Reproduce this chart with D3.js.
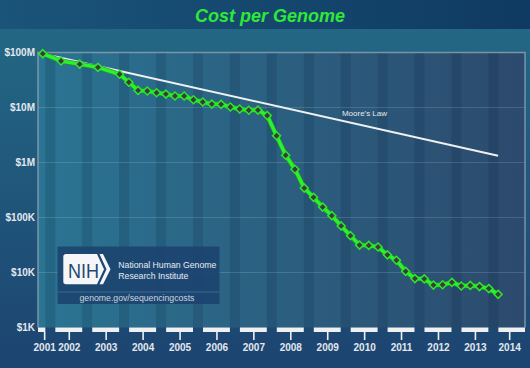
<!DOCTYPE html>
<html>
<head>
<meta charset="utf-8">
<script src="https://cdn.jsdelivr.net/npm/d3@7"></script>
<style>
  body { margin: 0; background: #1d4670; }
  svg { display: block; font-family: "Liberation Sans", Arial, sans-serif; }
</style>
</head>
<body>
<div id="chart"></div>
<script>
// Messpunkte: Datum (Jahr-Monat) und Kosten pro Genom in USD
const dates = [
  "2001-09", "2002-03", "2002-09", "2003-03", "2003-10",
  "2004-01", "2004-04", "2004-07", "2004-10",
  "2005-01", "2005-04", "2005-07", "2005-10",
  "2006-01", "2006-04", "2006-07", "2006-10",
  "2007-01", "2007-04", "2007-07", "2007-10",
  "2008-01", "2008-04", "2008-07", "2008-10",
  "2009-01", "2009-04", "2009-07", "2009-10",
  "2010-01", "2010-04", "2010-07", "2010-10",
  "2011-01", "2011-04", "2011-07", "2011-10",
  "2012-01", "2012-04", "2012-07", "2012-10",
  "2013-01", "2013-04", "2013-07", "2013-10",
  "2014-01"
];
const costs = [
  95263072, 70175437, 61448422, 53751684, 40153696,
  28780376, 20442576, 19934346, 18519312,
  17534970, 16159699, 16180224, 13801124,
  12585659, 11524373, 11425124, 10200806,
  9406689, 8925764, 8973446, 7147571,
  3063820, 1352982, 752080, 342502,
  232735, 154714, 108065, 70333,
  46774, 31512, 31125, 29092,
  20963, 16712, 10497, 7743,
  7666, 5901, 5985, 6618,
  5671, 5826, 5550, 5096,
  4008
];
// Moore's Law: Anfangs- und Endpunkt (Gerade im Log-Maßstab)
const mooreDates = ["2001-09", "2014-01"];
const mooreCosts = [95263072, 1330000];

const years = d3.range(2001, 2015);
const yTicks = [1e3, 1e4, 1e5, 1e6, 1e7, 1e8];
const yTickLabels = ["$1K", "$10K", "$100K", "$1M", "$10M", "$100M"];

const width = 530, height = 368;
const plot = { left: 38, right: 525, top: 52.5, bottom: 327.5 };

const parse = d3.timeParse("%Y-%m");
const data = dates.map((d, i) => ({ date: parse(d), cost: costs[i] }));
const moore = mooreDates.map((d, i) => ({ date: parse(d), cost: mooreCosts[i] }));

const svg = d3.select("#chart").append("svg")
  .attr("width", width)
  .attr("height", height);

const defs = svg.append("defs");
function gradient(id, x2, y2, stops) {
  const g = defs.append("linearGradient").attr("id", id)
    .attr("x1", 0).attr("y1", 0).attr("x2", x2).attr("y2", y2);
  stops.forEach(([o, c]) => g.append("stop").attr("offset", o).attr("stop-color", c));
}
gradient("bgPanel", 0, 1, [[0, "#246a86"], [1, "#1c4470"]]);
gradient("bgHead", 1, 0, [[0, "#1b5479"], [1, "#0f3a62"]]);
gradient("bgPlot", 1, 0, [[0, "#2b7493"], [0.5, "#2b5f80"], [1, "#2c4a6d"]]);

// Hintergrund
svg.append("rect").attr("width", width).attr("height", height).attr("fill", "url(#bgPanel)");
svg.append("rect").attr("width", width).attr("height", 29).attr("fill", "url(#bgHead)");

// Skalen
const x = d3.scaleTime()
  .domain([new Date(2001, 6, 16), new Date(2014, 8, 24)])
  .range([plot.left, plot.right]);
const y = d3.scaleLog()
  .domain([1e3, 1e8])
  .range([plot.bottom, plot.top]);

// Jahresbänder (Mitte Nov. bis Mitte Nov.), auf den Achsenbereich beschnitten
const [d0, d1] = x.domain();
const bands = years.map(yr => {
  const a = new Date(Math.max(new Date(yr - 1, 10, 15), d0));
  const b = new Date(Math.min(new Date(yr, 10, 15), d1));
  return { year: yr, x0: x(a), x1: x(b) };
});

svg.append("rect")
  .attr("x", plot.left).attr("y", plot.top)
  .attr("width", plot.right - plot.left).attr("height", plot.bottom - plot.top)
  .attr("fill", "url(#bgPlot)");

// dunkle Streifen an den Jahresgrenzen
svg.append("g").selectAll("rect")
  .data(bands.slice(0, -1))
  .join("rect")
    .attr("x", d => d.x1 - 5)
    .attr("y", plot.top)
    .attr("width", 10)
    .attr("height", plot.bottom - plot.top)
    .attr("fill", "#05203f")
    .attr("opacity", 0.16);

// Gitterlinien
svg.append("g").selectAll("line")
  .data(yTicks.slice(1, -1))
  .join("line")
    .attr("x1", plot.left).attr("x2", plot.right)
    .attr("y1", d => y(d)).attr("y2", d => y(d))
    .attr("stroke", "#ffffff").attr("stroke-opacity", 0.14);

// Rahmen oben, links, rechts
svg.append("path")
  .attr("d", `M${plot.left},${plot.bottom}V${plot.top}H${plot.right}V${plot.bottom}`)
  .attr("fill", "none")
  .attr("stroke", "#8ea3b3")
  .attr("stroke-opacity", 0.8)
  .attr("stroke-width", 1.5);

// Y-Achse
const yAxis = d3.axisLeft(y)
  .tickValues(yTicks)
  .tickFormat((d, i) => yTickLabels[i])
  .tickSize(0)
  .tickPadding(3);
svg.append("g")
  .attr("transform", `translate(${plot.left},0)`)
  .call(yAxis)
  .call(g => g.select(".domain").remove())
  .call(g => g.selectAll("text")
    .attr("fill", "#e2e8ee")
    .attr("font-size", 10)
    .attr("font-weight", "bold")
    .attr("font-family", "Liberation Sans, Arial, sans-serif"));

// X-Achse: weiße Balken je Jahr, Ticks in der Bandmitte
svg.append("g").selectAll("rect")
  .data(bands)
  .join("rect")
    .attr("x", (d, i) => i === 0 ? d.x0 : d.x0 + 5)
    .attr("y", plot.bottom)
    .attr("width", (d, i) => (d.x1 - (i === bands.length - 1 ? 0 : 5)) - (i === 0 ? d.x0 : d.x0 + 5))
    .attr("height", 4.5)
    .attr("fill", "#eef0f2");

const xAxis = d3.axisBottom(x)
  .tickValues(bands.map(d => x.invert((d.x0 + d.x1) / 2)))
  .tickFormat((d, i) => years[i])
  .tickSize(8)
  .tickPadding(4);
svg.append("g")
  .attr("transform", `translate(0,${plot.bottom + 4.5})`)
  .call(xAxis)
  .call(g => g.select(".domain").remove())
  .call(g => g.selectAll("line").attr("stroke", "#eef0f2").attr("stroke-width", 1.6))
  .call(g => g.selectAll("text")
    .attr("fill", "#e2e8ee")
    .attr("font-size", 10)
    .attr("font-weight", "bold")
    .attr("font-family", "Liberation Sans, Arial, sans-serif"));

// NIH-Logo-Kasten
const logo = svg.append("g");
logo.append("rect")
  .attr("x", 57.5).attr("y", 246.5).attr("width", 162).attr("height", 57.5)
  .attr("fill", "#1c4570").attr("opacity", 0.93);
logo.append("line")
  .attr("x1", 57.5).attr("x2", 219.5).attr("y1", 292).attr("y2", 292)
  .attr("stroke", "#3d6a8e").attr("stroke-width", 1);
logo.append("path")
  .attr("d", "M66,254H97L104,269.2L97,284.3H66Q63.3,284.3 63.3,281.6V256.7Q63.3,254 66,254Z")
  .attr("fill", "#f4f6f8");
logo.append("path")
  .attr("d", "M99.5,254H103L110.5,269.2L103,284.3H99.5L106.5,269.2Z")
  .attr("fill", "#f4f6f8");
logo.append("text")
  .attr("x", 68).attr("y", 277.5)
  .attr("font-size", 20).attr("textLength", 31).attr("lengthAdjust", "spacingAndGlyphs")
  .attr("fill", "#1f4a72")
  .text("NIH");
logo.append("text")
  .attr("x", 118.3).attr("y", 268)
  .attr("font-size", 8.7).attr("fill", "#e6ecf1")
  .text("National Human Genome");
logo.append("text")
  .attr("x", 118.3).attr("y", 278.7)
  .attr("font-size", 8.7).attr("fill", "#e6ecf1")
  .text("Research Institute");
logo.append("text")
  .attr("x", 137).attr("y", 300.5)
  .attr("text-anchor", "middle")
  .attr("font-size", 8.7).attr("fill", "#c9d5df")
  .text("genome.gov/sequencingcosts");

// Moore's Law
const line = d3.line().x(d => x(d.date)).y(d => y(d.cost));
svg.append("path")
  .datum(moore)
  .attr("d", line)
  .attr("fill", "none")
  .attr("stroke", "#eef0f2")
  .attr("stroke-width", 2);
svg.append("text")
  .attr("x", 364.5).attr("y", 116)
  .attr("text-anchor", "middle")
  .attr("font-size", 8).attr("fill", "#e6e9ec")
  .text("Moore's Law");

// Kostenkurve
svg.append("path")
  .datum(data)
  .attr("d", line)
  .attr("fill", "none")
  .attr("stroke", "#1c9a2a")
  .attr("stroke-width", 5)
  .attr("stroke-linejoin", "round");
svg.append("path")
  .datum(data)
  .attr("d", line)
  .attr("fill", "none")
  .attr("stroke", "#2ff02f")
  .attr("stroke-width", 3.5)
  .attr("stroke-linejoin", "round");

const diamond = d3.symbol(d3.symbolSquare, 32);
svg.append("g").selectAll("path")
  .data(data)
  .join("path")
    .attr("d", diamond)
    .attr("transform", d => `translate(${x(d.date)},${y(d.cost)}) rotate(45)`)
    .attr("fill", "#3b3b3b")
    .attr("stroke", "#2ce62c")
    .attr("stroke-width", 1.5);

// Titel
svg.append("text")
  .attr("x", 270).attr("y", 21.7)
  .attr("text-anchor", "middle")
  .attr("font-size", 18)
  .attr("font-weight", "bold")
  .attr("font-style", "italic")
  .attr("fill", "#2ee83a")
  .text("Cost per Genome");
</script>
</body>
</html>
